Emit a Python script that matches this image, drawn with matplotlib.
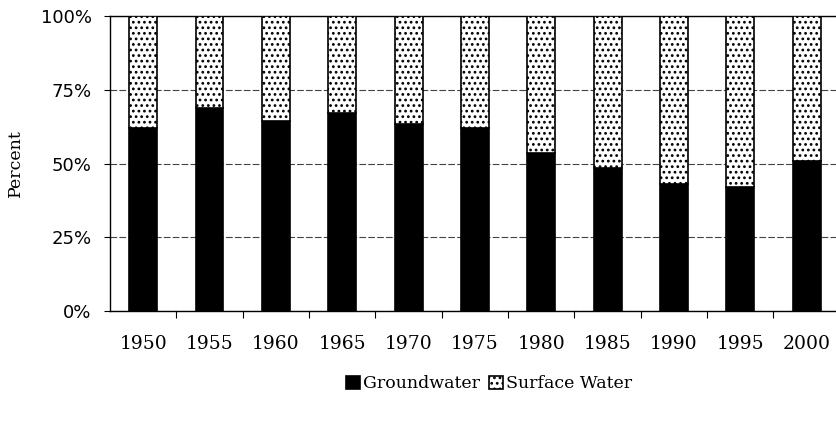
import numpy as np
import matplotlib
matplotlib.use('Agg')
import matplotlib.pyplot as plt
from matplotlib.ticker import FixedLocator, NullFormatter

# Data (percent of total withdrawals)
years = ['1950', '1955', '1960', '1965', '1970', '1975', '1980', '1985', '1990', '1995', '2000']
groundwater = [62, 69, 64.5, 67, 63.5, 62, 53.5, 48.5, 43, 42, 51]
surface_water = [100 - g for g in groundwater]

plt.rcParams['font.family'] = ['DejaVu Serif']
plt.rcParams['hatch.linewidth'] = 1.2

fig = plt.figure(figsize=(8.36, 4.28), dpi=100)
# axes runs a little past the right edge of the figure, as in the original
ax = fig.add_axes([0.1316, 0.2734, 0.873, 0.689])

x = np.arange(len(years))
ax.bar(x, groundwater, width=0.42, color='black', edgecolor='black',
       linewidth=1.2, label='Groundwater', zorder=3)
ax.bar(x, surface_water, width=0.42, bottom=groundwater, color='white',
       edgecolor='black', hatch='...', linewidth=1.2, label='Surface Water', zorder=3)

ax.set_xlim(-0.5, len(years) - 0.5)
ax.set_ylim(0, 100)
ax.set_yticks([0, 25, 50, 75, 100])
ax.set_yticklabels(['0%', '25%', '50%', '75%', '100%'], fontsize=13, family='DejaVu Sans')
ax.set_ylabel('Percent', fontsize=12.5)
ax.yaxis.set_label_coords(-0.118, 0.5)

ax.set_xticks(x)
ax.set_xticklabels(years, fontsize=13.5)
ax.tick_params(axis='x', which='major', length=0, pad=17)
ax.xaxis.set_minor_locator(FixedLocator(x[:-1] + 0.5))
ax.xaxis.set_minor_formatter(NullFormatter())
ax.tick_params(axis='x', which='minor', length=5, direction='out', width=0.8)
ax.tick_params(axis='y', length=4.3, width=0.8, pad=9)

ax.grid(axis='y', linestyle=(0, (6, 2)), color='#444444', linewidth=0.8, zorder=0)
for s in ['left', 'bottom', 'top']:
    ax.spines[s].set_linewidth(1.0)
ax.spines['right'].set_visible(False)

ax.legend(loc='center', bbox_to_anchor=(0.585, 0.103), bbox_transform=fig.transFigure,
          ncol=2, frameon=False, fontsize=12.5, handlelength=0.8, handleheight=0.8,
          handletextpad=0.2, columnspacing=0.5)

fig.savefig('out.png', dpi=100)
